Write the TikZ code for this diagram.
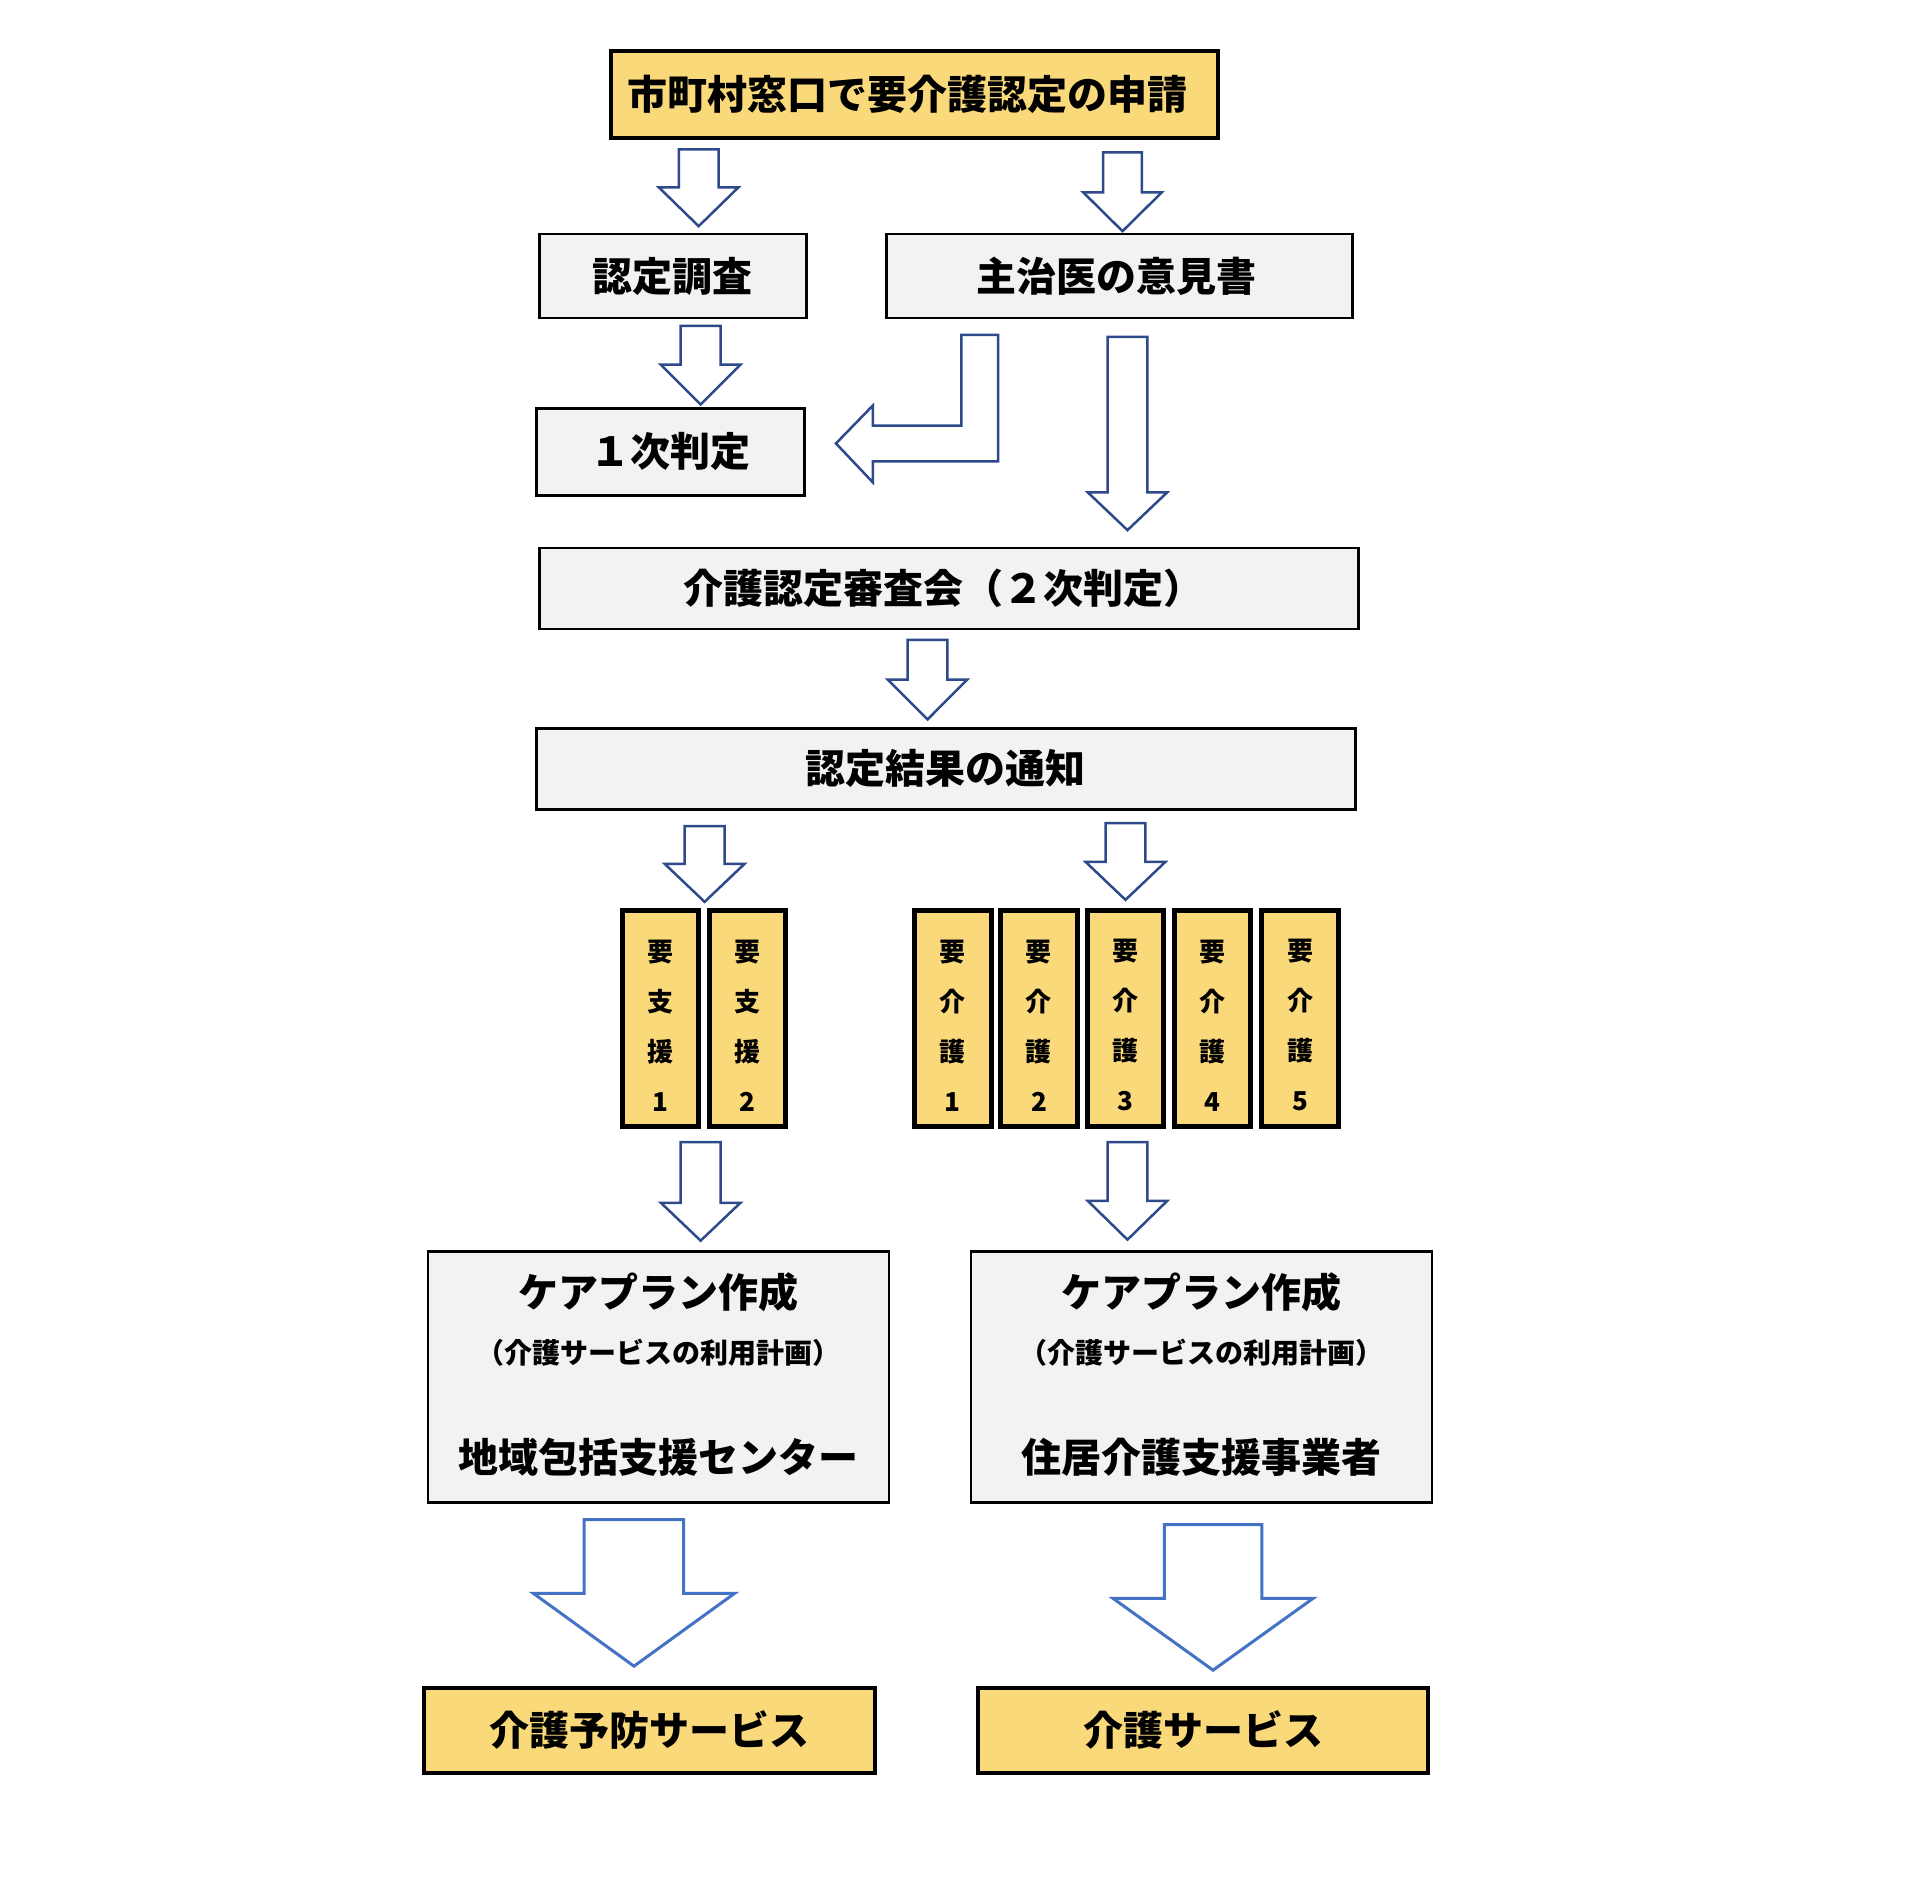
\documentclass[tikz,border=0pt]{standalone}
\usepackage{fontspec}
\setmainfont{Noto Sans CJK JP}
\definecolor{yel}{HTML}{F9D97A}
\definecolor{grayfill}{HTML}{F2F2F2}
\definecolor{navy}{HTML}{2F4A8A}
\definecolor{bblue}{HTML}{4472C4}
\newcommand\blockdown[7]{%
  \draw[#1] ({#2-#4},#3) -- ({#2+#4},#3) -- ({#2+#4},#5) -- ({#2+#6},#5) -- (#2,#7) -- ({#2-#6},#5) -- ({#2-#4},#5) -- cycle;}
\begin{document}
\begin{tikzpicture}[x=1pt,y=-1pt,
  bigtxt/.style={font=\bfseries\fontsize{40}{48}\selectfont},
  gbox/.style={draw=black, line width=2.5pt, fill=grayfill, inner sep=0pt, outer sep=0pt, bigtxt},
  ybox/.style={draw=black, line width=4pt, fill=yel, inner sep=0pt, outer sep=0pt, bigtxt},
  colbox/.style={draw=black, line width=5pt, fill=yel, inner sep=0pt, outer sep=0pt, minimum width=76.6pt, minimum height=216pt},
  coltxt/.style={align=center, inner sep=0pt, font=\bfseries\fontsize{26}{50}\selectfont},
  smalltxt/.style={inner sep=0pt, font=\bfseries\fontsize{28}{34}\selectfont},
  sarrow/.style={draw=navy, line width=2.5pt, fill=white, line join=miter},
  barrow/.style={draw=bblue, line width=3pt, fill=white, line join=miter}]
\fill[white] (0,0) rectangle (1920,1903);
\useasboundingbox (0,0) rectangle (1920,1903);

\begin{scope}[xshift=2.15pt, xscale=0.995, yscale=0.9965]
% boxes
\node[ybox, minimum width=607pt, minimum height=87pt] (apply) at (917,94.5) {\hspace*{-14pt}市町村窓口で要介護認定の申請};
\node[gbox, minimum width=267pt, minimum height=84pt] (chosa) at (674,277) {認定調査};
\node[gbox, minimum width=466pt, minimum height=84pt] (iken) at (1123,277) {\hspace*{-6pt}主治医の意見書};
\node[gbox, minimum width=268pt, minimum height=87pt] (ichiji) at (671.5,453.5) {１次判定};
\node[gbox, minimum width=819pt, minimum height=81pt] (shinsa) at (951.5,590.5) {\hspace*{-10pt}介護認定審査会（２次判定）};
\node[gbox, minimum width=819pt, minimum height=81pt] (tsuchi) at (948.5,771.5) {認定結果の通知};

% level columns
\foreach \cx/\nm in {661.5/s1, 749/s2, 955.5/k1, 1042/k2, 1129/k3, 1216.5/k4, 1304.5/k5}{
  \node[colbox] (\nm) at (\cx,1022) {};
}
\node[coltxt] (s1t) at (661.5,1029) {要\\支\\援\\1};
\node[coltxt] (s2t) at (749,1029) {要\\支\\援\\2};
\node[coltxt] (k1t) at (955.5,1029) {要\\介\\護\\1};
\node[coltxt] (k2t) at (1042,1029) {要\\介\\護\\2};
\node[coltxt] (k3t) at (1129,1029) {要\\介\\護\\3};
\node[coltxt] (k4t) at (1216.5,1029) {要\\介\\護\\4};
\node[coltxt] (k5t) at (1304.5,1029) {要\\介\\護\\5};

% care plan boxes
\node[gbox, minimum width=461pt, minimum height=251pt] (careL) at (659.5,1382) {};
\node[gbox, minimum width=461pt, minimum height=251pt] (careR) at (1205.5,1382) {};
\node[bigtxt, inner sep=0pt] (cpL1) at (659.5,1297) {ケアプラン作成};
\node[smalltxt] (cpL2) at (659.5,1357) {（介護サービスの利用計画）};
\node[bigtxt, inner sep=0pt] (cpL3) at (659.5,1462) {地域包括支援センター};
\node[bigtxt, inner sep=0pt] (cpR1) at (1205.5,1297) {ケアプラン作成};
\node[smalltxt] (cpR2) at (1205.5,1357) {（介護サービスの利用計画）};
\node[bigtxt, inner sep=0pt] (cpR3) at (1205.5,1462) {住居介護支援事業者};

% service boxes
\node[ybox, minimum width=451pt, minimum height=85pt] (svcL) at (650.5,1736.5) {介護予防サービス};
\node[ybox, minimum width=450pt, minimum height=85pt] (svcR) at (1207,1736.5) {介護サービス};

% block arrows
\blockdown{sarrow}{700}{150}{20}{188}{40}{227}
\blockdown{sarrow}{1126}{153}{19.5}{193}{39.5}{232}
\blockdown{sarrow}{702}{327}{20}{366}{40}{406}
\draw[sarrow] (964,336) -- (1001,336) -- (1001,463) -- (875,463) -- (875,484) -- (838,445) -- (875,407) -- (875,427) -- (964,427) -- cycle;
\blockdown{sarrow}{1131}{338}{20}{494}{40}{532}
\blockdown{sarrow}{930}{642}{20}{682}{40}{722}
\blockdown{sarrow}{706}{829}{20}{867}{40}{905}
\blockdown{sarrow}{1129}{826}{20}{865}{40}{903}
\blockdown{sarrow}{702}{1146}{20}{1207}{40}{1245}
\blockdown{sarrow}{1131}{1146}{20}{1205}{40}{1244}
\blockdown{barrow}{635}{1525}{50}{1599}{101}{1672}
\blockdown{barrow}{1217}{1530}{49}{1604}{100.5}{1676}
\end{scope}
\end{tikzpicture}
\end{document}
